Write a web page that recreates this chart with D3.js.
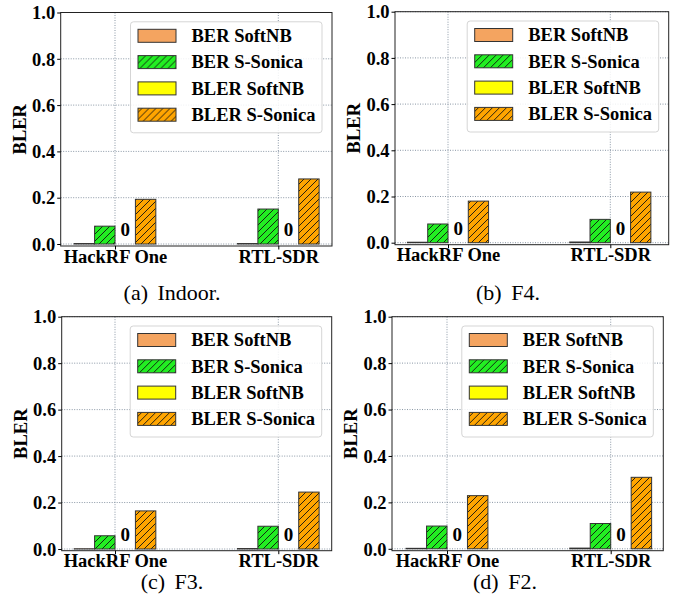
<!DOCTYPE html>
<html>
<head>
<meta charset="utf-8">
<script src="https://cdn.jsdelivr.net/npm/d3@7"></script>
</head>
<body style="margin:0; background:#fff">
<svg id="fig" width="677" height="612"></svg>
<script>
// ---- data ----
var categories = ["HackRF One", "RTL-SDR"]
var seriesNames = ["BER SoftNB", "BER S-Sonica", "BLER SoftNB", "BLER S-Sonica"]
var seriesColors = ["#f4a460", "#22ee22", "#ffff00", "#ffa500"]
var seriesHatch = [false, true, false, true]
var yTicks = [0, 0.2, 0.4, 0.6, 0.8, 1.0]
var captions = ["(a) Indoor.", "(b) F4.", "(c) F3.", "(d) F2."]

// [HackRF One, RTL-SDR] for each series
var indoorVals = [[0.002, 0.002], [0.077, 0.151], [0, 0], [0.193, 0.281]]
var f4Vals = [[0.002, 0.003], [0.081, 0.101], [0, 0], [0.18, 0.219]]
var f3Vals = [[0.001, 0.002], [0.057, 0.098], [0, 0], [0.164, 0.245]]
var f2Vals = [[0.002, 0.003], [0.098, 0.109], [0, 0], [0.229, 0.308]]
var zeroLabel = "0"

var serif = "Liberation Serif"
var fs = 18.5

// panel frames (pixels)
var panels = [
  {vals: indoorVals, cap: captions[0], L: 60.7, R: 332, T: 12.5, B: 246, y0: 244, x0: 115, x1: 278.3, capX: 172, capY: 300, labX: 20},
  {vals: f4Vals, cap: captions[1], L: 395, R: 668.7, T: 11.7, B: 244.7, y0: 242.7, x0: 448, x1: 610.3, capX: 508, capY: 300, labX: 354},
  {vals: f3Vals, cap: captions[2], L: 61.7, R: 331.7, T: 316.7, B: 550.7, y0: 549, x0: 115, x1: 278.3, capX: 172, capY: 589, labX: 21},
  {vals: f2Vals, cap: captions[3], L: 392, R: 663.3, T: 316.7, B: 550.7, y0: 548.8, x0: 447, x1: 610.7, capX: 505, capY: 589, labX: 351}
]

var barW = 0.125 // in category units

var svg = d3.select("#fig")
var defs = svg.append("defs")

// hatch patterns "//"
seriesColors.forEach(function(c, i) {
  if (!seriesHatch[i]) return
  var p = defs.append("pattern")
    .attr("id", "hatch" + i)
    .attr("patternUnits", "userSpaceOnUse")
    .attr("width", 7).attr("height", 7)
  p.append("rect").attr("width", 7).attr("height", 7).attr("fill", c)
  p.append("path")
    .attr("d", "M-1,1L1,-1M0,7L7,0M6,8L8,6")
    .attr("stroke", "#111").attr("stroke-width", 0.9)
})

function fillOf(i) { return seriesHatch[i] ? "url(#hatch" + i + ")" : seriesColors[i] }

panels.forEach(function(pn) {
  var g = svg.append("g")

  var xScale = d3.scaleLinear().domain([0, 1]).range([pn.x0, pn.x1])
  var yScale = d3.scaleLinear().domain([0, 1]).range([pn.y0, pn.T])

  // gridlines
  g.append("g").selectAll("line.hg").data(yTicks).enter().append("line")
    .attr("x1", pn.L).attr("x2", pn.R)
    .attr("y1", function(d) { return yScale(d) }).attr("y2", function(d) { return yScale(d) })
    .attr("stroke", "#8a97a5").attr("stroke-width", 1).attr("stroke-dasharray", "1,1.5")
  g.append("g").selectAll("line.vg").data(categories).enter().append("line")
    .attr("x1", function(d, i) { return xScale(i) }).attr("x2", function(d, i) { return xScale(i) })
    .attr("y1", pn.T).attr("y2", pn.B)
    .attr("stroke", "#8a97a5").attr("stroke-width", 1).attr("stroke-dasharray", "1,1.5")

  // bars
  seriesNames.forEach(function(s, si) {
    g.append("g").selectAll("rect").data(pn.vals[si]).enter().append("rect")
      .attr("x", function(d, ci) { return xScale(ci + (si - 2) * barW) })
      .attr("width", xScale(barW) - xScale(0))
      .attr("y", function(d) { return yScale(d) })
      .attr("height", function(d) { return yScale(0) - yScale(d) })
      .attr("fill", fillOf(si))
      .attr("stroke", "#333").attr("stroke-width", 1)
  })

  // "0" labels above the zero BLER SoftNB bars
  g.append("g").selectAll("text").data(pn.vals[2]).enter().append("text")
    .attr("x", function(d, ci) { return xScale(ci + 0.5 * barW) })
    .attr("y", function(d) { return yScale(d) - 8 })
    .attr("text-anchor", "middle")
    .attr("font-weight", "bold").attr("font-size", 19)
    .text(zeroLabel)

  // frame
  g.append("rect")
    .attr("x", pn.L).attr("y", pn.T)
    .attr("width", pn.R - pn.L).attr("height", pn.B - pn.T)
    .attr("fill", "none").attr("stroke", "#222").attr("stroke-width", 1)

  // y axis
  var yAxis = g.append("g")
    .attr("transform", "translate(" + pn.L + ",0)")
    .call(d3.axisLeft(yScale).tickValues(yTicks).tickFormat(d3.format(".1f")).tickSize(3.5).tickPadding(2))
  yAxis.select(".domain").remove()
  yAxis.selectAll("text").attr("font-size", fs).attr("font-weight", "bold")
    .attr("fill", "#000").attr("dy", "0.34em")

  // x axis
  var xAxis = g.append("g")
    .attr("transform", "translate(0," + pn.B + ")")
    .call(d3.axisBottom(xScale).tickValues([0, 1]).tickFormat(function(d) { return categories[d] }).tickSize(3.5).tickPadding(2))
  xAxis.select(".domain").remove()
  xAxis.selectAll("text").attr("font-size", fs).attr("font-weight", "bold")
    .attr("fill", "#000").attr("dy", "0.6em")

  // y label
  g.append("text")
    .attr("transform", "translate(" + (pn.labX + 6) + "," + ((pn.T + pn.B) / 2) + ") rotate(-90)")
    .attr("text-anchor", "middle")
    .attr("font-weight", "bold").attr("font-size", fs)
    .text("BLER")

  // legend
  var lg = g.append("g").attr("transform", "translate(" + (pn.R - 201.5) + "," + (pn.T + 9.3) + ")")
  lg.append("rect")
    .attr("width", 191.5).attr("height", 111).attr("rx", 3)
    .attr("fill", "#fff").attr("fill-opacity", 0.85)
    .attr("stroke", "#d5d5d5").attr("stroke-width", 1)
  seriesNames.forEach(function(s, si) {
    var yy = 14 + si * 26.3
    lg.append("rect")
      .attr("x", 7.5).attr("y", yy - 6.5)
      .attr("width", 38).attr("height", 13)
      .attr("fill", fillOf(si))
      .attr("stroke", "#333").attr("stroke-width", 1)
    lg.append("text")
      .attr("x", 61).attr("y", yy + 6.2)
      .attr("font-weight", "bold").attr("font-size", fs)
      .text(s)
  })

  // caption
  var cap = pn.cap.split(" ")
  var ct = g.append("text")
    .attr("x", pn.capX).attr("y", pn.capY)
    .attr("text-anchor", "middle")
    .attr("font-size", 22)
  ct.append("tspan").text(cap[0])
  ct.append("tspan").attr("dx", 4).text(" " + cap[1])
})

// serif everywhere
svg.selectAll("text").style("font-family", serif)
</script>
</body>
</html>
